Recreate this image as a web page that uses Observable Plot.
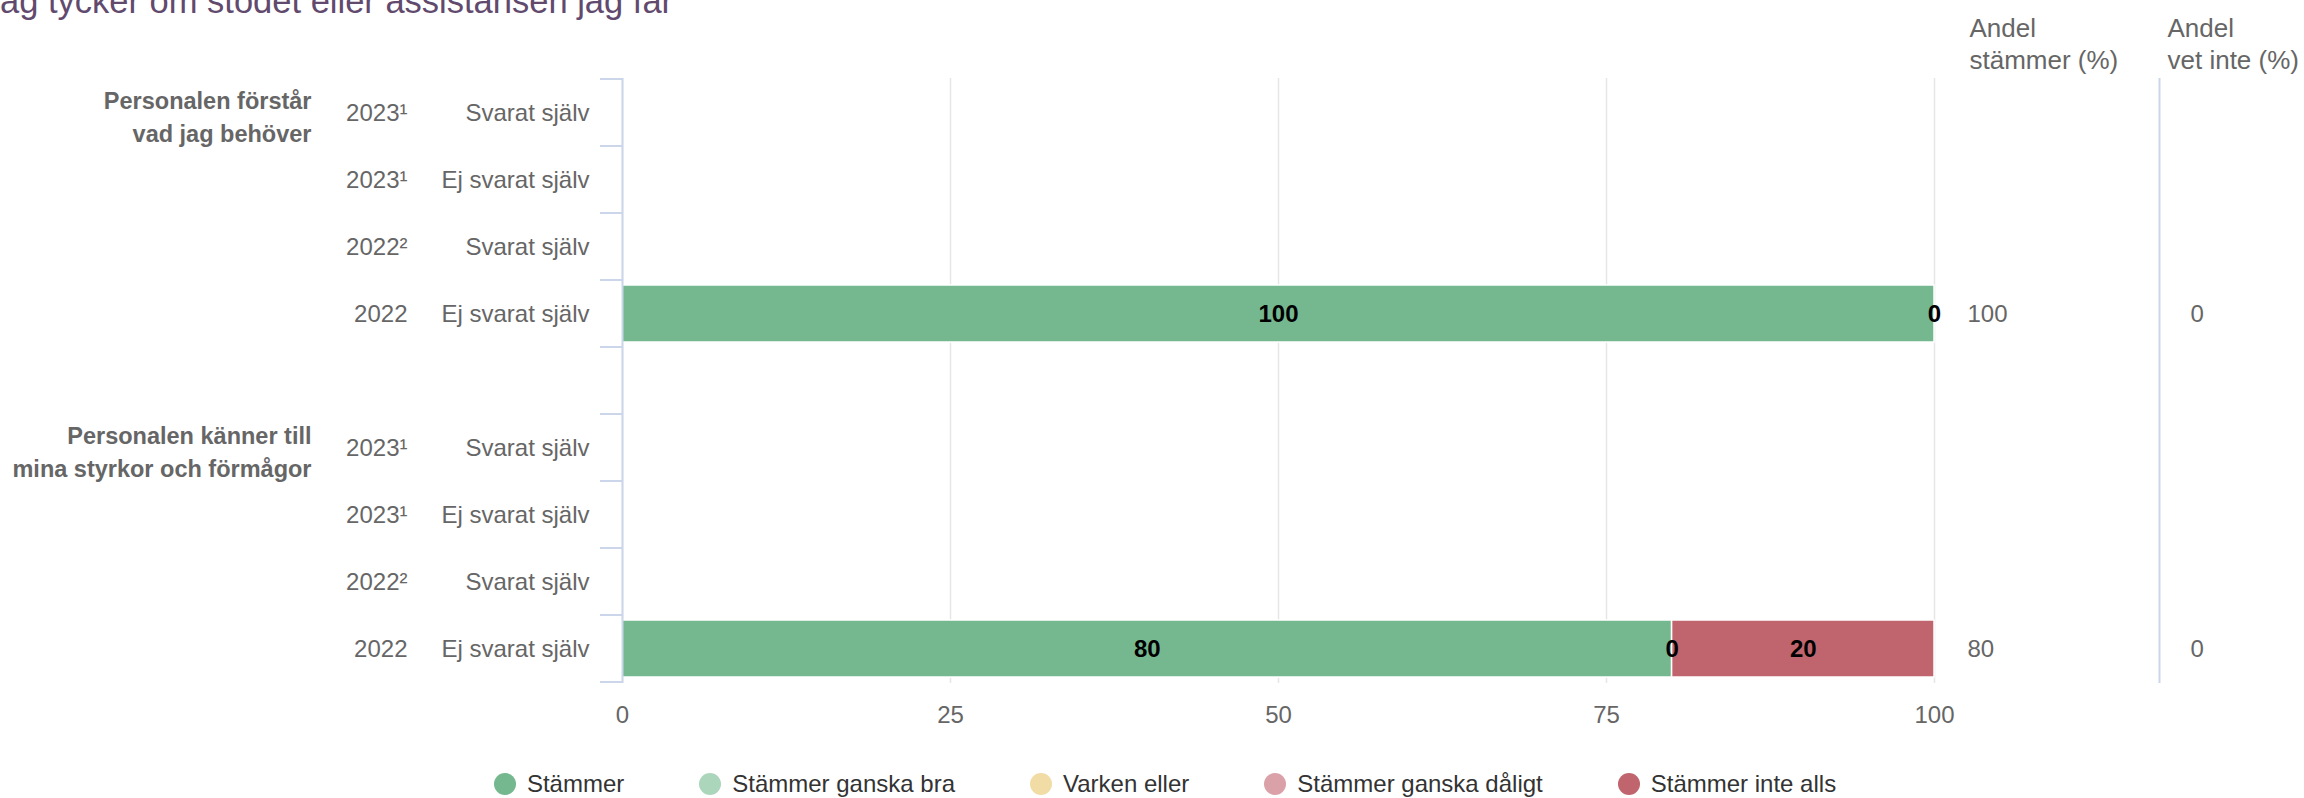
<!DOCTYPE html>
<html><head><meta charset="utf-8">
<script src="https://cdn.jsdelivr.net/npm/d3@7"></script>
<script src="https://cdn.jsdelivr.net/npm/@observablehq/plot@0.6"></script>
<style>
html,body{margin:0;padding:0;background:#fff;overflow:hidden;width:2304px;height:798px;font-family:"Liberation Sans",Arial,Helvetica,sans-serif;}
#title{position:absolute;left:0;top:-16px;font-size:34.5px;line-height:34px;color:#614a6e;white-space:nowrap;z-index:2;}
#chart{position:absolute;left:0;top:0;}
#legend{position:absolute;left:13px;top:765px;width:2304px;height:38px;display:flex;justify-content:center;align-items:center;gap:75px;font-size:24px;color:#333;}
.item{display:flex;align-items:center;white-space:nowrap;}
.sw{width:22px;height:22px;border-radius:50%;margin-right:11px;flex:none;}
</style></head><body>
<div id="chart"></div><div id="title"></div><div id="legend"></div>
<script>
const title = "ag tycker om stödet eller assistansen jag får";
const groupLabels = ["Personalen förstår\nvad jag behöver", "Personalen känner till\nmina styrkor och förmågor"];
const years = ["2023¹", "2023¹", "2022²", "2022"];
const respondents = ["Svarat själv", "Ej svarat själv", "Svarat själv", "Ej svarat själv"];
const categories = ["Stämmer", "Stämmer ganska bra", "Varken eller", "Stämmer ganska dåligt", "Stämmer inte alls"];
const colors = ["#75b890", "#acd6bc", "#f2dca6", "#daa2a8", "#c0656d"];
// values per row (Stämmer, ganska bra, varken, ganska dåligt, inte alls); null = no data
const valuesGroup1 = [null, null, null, [100, 0, 0, 0, 0]];
const valuesGroup2 = [null, null, null, [80, 0, 0, 0, 20]];
const andelStammer1 = [null, null, null, 100];
const andelStammer2 = [null, null, null, 80];
const andelVetInte1 = [null, null, null, 0];
const andelVetInte2 = [null, null, null, 0];
const xTicks = [0, 25, 50, 75, 100];
const headers = ["Andel\nstämmer (%)", "Andel\nvet inte (%)"];

const groupValues = [valuesGroup1, valuesGroup2];
const groupStammer = [andelStammer1, andelStammer2];
const groupVetInte = [andelVetInte1, andelVetInte2];

const rowKeys = [];
const rowData = [];
const groupData = [];
const segments = [];
groupLabels.forEach((g, gi) => {
  if (gi > 0) rowKeys.push("gap" + gi);
  years.forEach((yr, ri) => {
    const key = `g${gi}r${ri}`;
    rowKeys.push(key);
    rowData.push({key, year: yr, respondent: respondents[ri], stammer: groupStammer[gi][ri], vetInte: groupVetInte[gi][ri]});
    if (ri === 0) groupData.push({key, label: g});
    const vals = groupValues[gi][ri];
    if (vals) vals.forEach((v, ci) => segments.push({
      key, category: categories[ci], value: v,
      show: v > 0 || (ci > 0 && vals[ci - 1] > 0)
    }));
  });
});

const W = 2304, H = 762, mL = 622, mR = 370, mT = 78, mB = 79;

function rowTicks(index, scales) {
  const y = scales.y;
  const sy = scales.scales && scales.scales.y;
  let bw, step;
  if (sy && sy.bandwidth != null) { bw = sy.bandwidth; step = sy.step; }
  else if (y.bandwidth) { bw = y.bandwidth(); step = y.step(); }
  else { step = (H - mT - mB) / rowKeys.length; bw = step * 0.85; }
  const pad = (step - bw) / 2;
  const x0 = scales.x(0);
  const bounds = rowKeys.map(k => y(k) - pad).concat([y(rowKeys[rowKeys.length - 1]) + bw + pad]);
  const g = d3.create("svg:g").attr("stroke", "#ccd6eb").attr("stroke-width", 2);
  g.selectAll("line").data(bounds).join("line")
    .attr("x1", x0 - 22).attr("x2", x0).attr("y1", d => d).attr("y2", d => d);
  return g.node();
}

const font = '"Liberation Sans", Arial, Helvetica, sans-serif';
const chart = Plot.plot({
  width: W, height: H,
  marginLeft: mL, marginRight: mR, marginTop: mT, marginBottom: mB,
  style: {fontFamily: font, fontSize: "24px", color: "#666", background: "transparent", overflow: "visible"},
  x: {domain: [0, 100], ticks: xTicks, tickSize: 0, tickPadding: 22, label: null, tickFormat: d => String(d)},
  y: {domain: rowKeys, paddingInner: 0.15, paddingOuter: 0.075, axis: null},
  color: {domain: categories, range: colors},
  marks: [
    Plot.ruleX(xTicks, {stroke: "#e6e6e6", strokeWidth: 1.5}),
    Plot.ruleX([100], {dx: 225, stroke: "#ccd6eb", strokeWidth: 2}),
    Plot.barX(segments, Plot.stackX({x: "value", y: "key", fill: "category", stroke: "white", strokeWidth: 1.5, order: null})),
    Plot.ruleX([0], {stroke: "#ccd6eb", strokeWidth: 2}),
    rowTicks,
    Plot.text(segments, Plot.stackX({x: "value", y: "key", z: "category", order: null,
      text: d => d.show ? String(d.value) : "", fill: "#000", fontWeight: "bold", fontSize: 24})),
    Plot.text(rowData, {y: "key", text: "year", frameAnchor: "left", dx: -215, textAnchor: "end", fill: "#666", fontSize: 24}),
    Plot.text(rowData, {y: "key", text: "respondent", frameAnchor: "left", dx: -33, textAnchor: "end", fill: "#666", fontSize: 24}),
    Plot.text(groupData, {y: "key", text: "label", frameAnchor: "left", dx: -311, textAnchor: "end", fill: "#666", fontWeight: "bold", fontSize: 23.5, lineHeight: 1.38, dy: 2}),
    Plot.text(rowData.filter(d => d.stammer != null), {y: "key", text: d => String(d.stammer), frameAnchor: "right", dx: 33, textAnchor: "start", fill: "#666", fontSize: 24}),
    Plot.text(rowData.filter(d => d.vetInte != null), {y: "key", text: d => String(d.vetInte), frameAnchor: "right", dx: 256, textAnchor: "start", fill: "#666", fontSize: 24}),
    Plot.text([headers[0]], {text: d => d, frameAnchor: "top-right", dx: 35, dy: -36, textAnchor: "start", lineAnchor: "middle", fontSize: 26, lineHeight: 1.23, fill: "#666"}),
    Plot.text([headers[1]], {text: d => d, frameAnchor: "top-right", dx: 233, dy: -36, textAnchor: "start", lineAnchor: "middle", fontSize: 26, lineHeight: 1.23, fill: "#666"})
  ]
});
document.getElementById("chart").appendChild(chart);
document.getElementById("title").textContent = title;

const legend = document.getElementById("legend");
categories.forEach((c, i) => {
  const item = document.createElement("div");
  item.className = "item";
  const sw = document.createElement("span");
  sw.className = "sw";
  sw.style.background = colors[i];
  const t = document.createElement("span");
  t.textContent = c;
  item.appendChild(sw); item.appendChild(t);
  legend.appendChild(item);
});
</script>
</body></html>
